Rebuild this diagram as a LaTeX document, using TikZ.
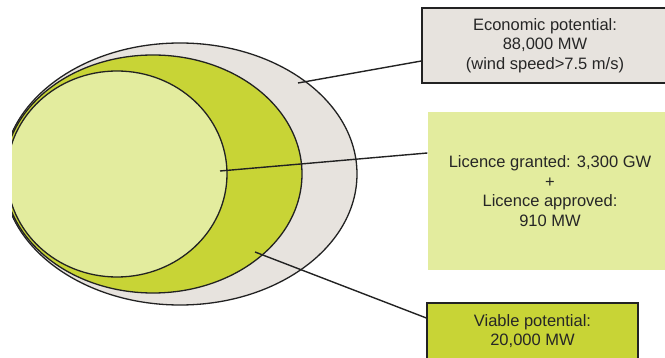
\documentclass[tikz,border=0pt]{standalone}
\usepackage{fontspec}
\setmainfont{Liberation Sans}
\usetikzlibrary{calc}
\definecolor{outergray}{HTML}{E7E3DE}
\definecolor{viablegreen}{HTML}{C8D436}
\definecolor{licencegreen}{HTML}{E3EC9E}
\definecolor{edgegray}{HTML}{222222}
\definecolor{textgray}{HTML}{262626}
\tikzset{area/.style={fill=#1,draw=edgegray,line width=1.3pt},area/.default=outergray}
\tikzset{infobox/.style={fill=#1,draw=edgegray,line width=1.3pt,align=center,
	text=textgray,inner sep=0pt,font=\fontsize{16.5}{19.5}\selectfont},infobox/.default=outergray}
\tikzset{pointer/.style={draw=edgegray,line width=1.4pt}}

\begin{document}
\begin{tikzpicture}[x=1pt,y=-1pt]

	\useasboundingbox (0,0) rectangle (665,358);

	% The three nested potentials, cut at the left
	\begin{scope}
		\clip (12,0) rectangle (665,358);
		\draw [area] (180,174) ellipse [x radius=177, y radius=131];
		\draw [area=viablegreen] (153,174) ellipse [x radius=149, y radius=119];
		\draw [area=licencegreen] (117,174) ellipse [x radius=110, y radius=103];
	\end{scope}

	% Where the pointers start
	\coordinate (economic spot) at (298,83);
	\coordinate (licence spot)  at (220,171);
	\coordinate (viable spot)   at (255,252);

	% Box "Economic potential"
	\node [infobox, minimum width=246pt, minimum height=75pt] (economic) at (545,45.5)
		{Economic potential:\\88,000 MW\\(wind speed>7.5 m/s)};

	% Box "Licence"
	\node [infobox=licencegreen, draw=none, minimum width=244pt, minimum height=158pt]
		(licence) at (550,191)
		{Licence granted: 3,300 GW\\+\\Licence approved:\\910 MW};

	% Box "Viable potential"
	\node [infobox=viablegreen, minimum width=211pt, minimum height=56pt] (viable) at (532.5,331)
		{Viable potential:\\20,000 MW};

	% The pointers
	\draw [pointer] (economic spot) -- (economic.west |- 0,61);
	\draw [pointer] (licence spot) -- (licence.west |- 0,153);
	\draw [pointer] (viable spot) -- (viable.west |- 0,318);

\end{tikzpicture}
\end{document}
